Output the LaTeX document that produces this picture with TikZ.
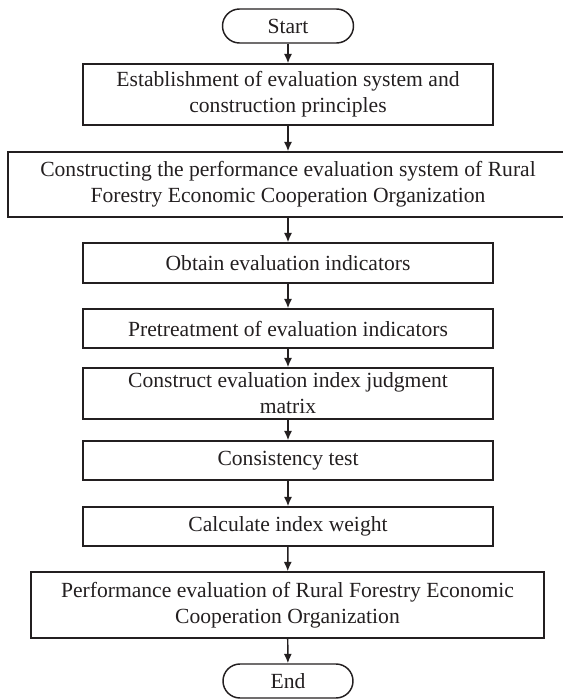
\documentclass[tikz,border=0pt]{standalone}
\usepackage{fontspec}
\setmainfont{Liberation Serif}
\usetikzlibrary{arrows.meta}
\definecolor{ink}{HTML}{231F20}
\begin{document}
\begin{tikzpicture}[x=0.75pt,y=-0.75pt,
  every node/.style={font=\fontsize{16.2}{19.5}\selectfont, text=ink, align=center, inner sep=0pt},
  box/.style={draw=ink, line width=1.1pt, rectangle, minimum width=307.5pt},
  terminal/.style={draw=ink, line width=1.1pt, rectangle, rounded corners=12.75pt, minimum width=98.25pt, minimum height=25.5pt},
  flow/.style={draw=ink, line width=1.1pt, -{Latex[length=7pt,width=6pt]}}]
  \useasboundingbox (0,0) rectangle (562,699);

  \node[terminal] (start) at (288,26) {Start};
  \node[box, minimum height=45.75pt] (s1) at (288,94.5)
    {Establishment of evaluation system and\\construction principles};
  \node[box, minimum width=420pt, minimum height=48.75pt] (s2) at (288,184.5)
    {Constructing the performance evaluation system of Rural\\Forestry Economic Cooperation Organization};
  \node[box, minimum height=30pt] (s3) at (288,263) {Obtain evaluation indicators};
  \node[box, minimum height=29.25pt] (s4) at (288,328.5) {Pretreatment of evaluation indicators};
  \node[box, minimum height=38.25pt] (s5) at (288,393.5)
    {Construct evaluation index judgment\\matrix};
  \node[box, minimum height=29.25pt] (s6) at (288,460.5) {Consistency test};
  \node[box, minimum height=29.25pt] (s7) at (288,526.5) {Calculate index weight};
  \node[box, minimum width=384.75pt, minimum height=49.5pt] (s8) at (287.5,605)
    {Performance evaluation of Rural Forestry Economic\\Cooperation Organization};
  \node[terminal, minimum width=97.5pt] (end) at (288,681) {End};

  \foreach \a/\b in {start/s1, s1/s2, s2/s3, s3/s4, s4/s5, s5/s6, s6/s7, s7/s8, s8/end}
    \draw[flow] (\a) -- (\b);
\end{tikzpicture}
\end{document}
